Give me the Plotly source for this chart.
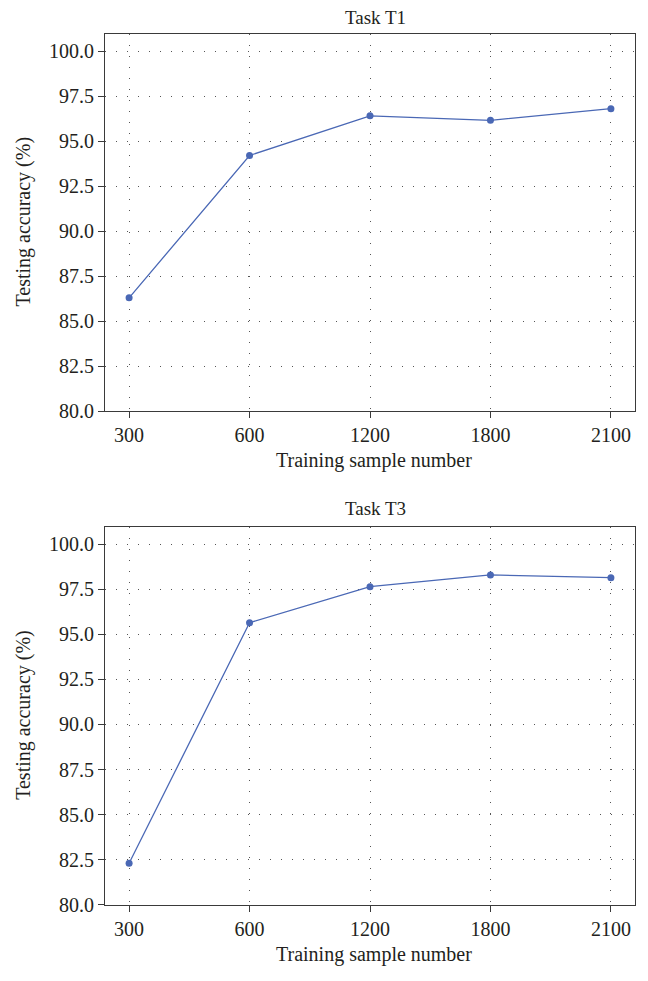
import plotly.graph_objects as go

categories = ["300", "600", "1200", "1800", "2100"]
acc_t1 = [86.3, 94.2, 96.4, 96.15, 96.8]
acc_t3 = [82.3, 95.65, 97.65, 98.3, 98.15]
y_ticks = [80.0, 82.5, 85.0, 87.5, 90.0, 92.5, 95.0, 97.5, 100.0]
titles = ["Task T1", "Task T3"]
x_title = "Training sample number"
y_title = "Testing accuracy (%)"

# The page body has an 8px default margin; the figure is sized to sit
# inside it, so every position below is (reference pixel - 8).
OFF = 8
W, H = 648 - 2 * OFF, 981 - 2 * OFF
L, R = 105 - OFF, W - (635 - OFF)
FONT = "Liberation Serif"
LINE = "#4a68b5"
TXT = "#231f20"

fig = go.Figure()
fig.add_trace(go.Scatter(x=categories, y=acc_t1, mode="lines+markers",
                         line=dict(color=LINE, width=1.3),
                         marker=dict(color=LINE, size=7),
                         xaxis="x", yaxis="y", showlegend=False))
fig.add_trace(go.Scatter(x=categories, y=acc_t3, mode="lines+markers",
                         line=dict(color=LINE, width=1.3),
                         marker=dict(color=LINE, size=7),
                         xaxis="x2", yaxis="y2", showlegend=False))

# reference pixel boxes (top, bottom) of each panel
boxes = [(34 - OFF, 416 - OFF), (533 - OFF, 915 - OFF)]

def ax_common():
    return dict(showline=True, linecolor="#3a3a3a", linewidth=1.2, mirror=True,
                ticks="outside", ticklen=6, tickwidth=1.2, tickcolor="#3a3a3a",
                showgrid=True, gridcolor="#555555", gridwidth=1.2,
                griddash="1px,10px", zeroline=False,
                tickfont=dict(family=FONT, size=20, color=TXT))

xa = ax_common()
xa.update(type="category", range=[-0.2, 4.2], categoryarray=categories,
          categoryorder="array")
ya = ax_common()
ya.update(range=[80, 100.96], tickvals=y_ticks,
          ticktext=[f"{v:.1f}" for v in y_ticks])

fig.update_layout(
    width=W, height=H,
    margin=dict(l=L, r=R, t=0, b=0),
    paper_bgcolor="white", plot_bgcolor="white",
    xaxis=dict(xa, domain=[0, 1], anchor="y"),
    yaxis=dict(ya, domain=[1 - boxes[0][1] / H, 1 - boxes[0][0] / H], anchor="x"),
    xaxis2=dict(xa, domain=[0, 1], anchor="y2"),
    yaxis2=dict(ya, domain=[1 - boxes[1][1] / H, 1 - boxes[1][0] / H], anchor="x2"),
)

pw = W - L - R
def px(xref_pix):
    return (xref_pix - OFF - L) / pw

anns = []
for i, (top, bot) in enumerate(boxes):
    anns.append(dict(text=titles[i], xref="paper", yref="paper",
                     x=px(375), y=1 - (top - (16 if i == 0 else 19)) / H,
                     xanchor="center", yanchor="middle", showarrow=False,
                     font=dict(family=FONT, size=19, color=TXT)))
    anns.append(dict(text=x_title, xref="paper", yref="paper",
                     x=px(374), y=1 - (bot + 50) / H,
                     xanchor="center", yanchor="middle", showarrow=False,
                     font=dict(family=FONT, size=20, color=TXT)))
    anns.append(dict(text=y_title, xref="paper", yref="paper",
                     x=px(24), y=1 - ((top + bot) / 2 - 1) / H,
                     xanchor="center", yanchor="middle", showarrow=False,
                     textangle=-90,
                     font=dict(family=FONT, size=20, color=TXT)))
fig.update_layout(annotations=anns)

fig.write_html("out.html")
